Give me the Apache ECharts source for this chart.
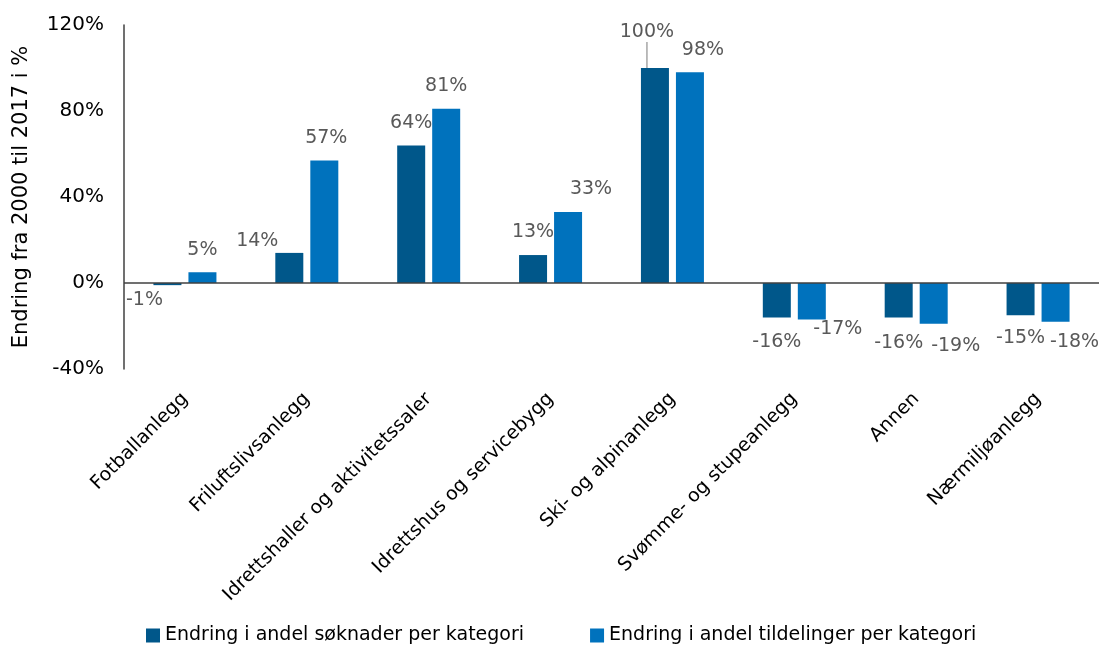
<!DOCTYPE html>
<html><head><meta charset="utf-8">
<script src="https://cdn.jsdelivr.net/npm/echarts@6/dist/echarts.min.js"></script>
<style>html,body{margin:0;padding:0;background:#fff}#c{width:1099px;height:651px}</style>
</head><body><div id="c"></div>
<script>
var categories = ['Fotballanlegg','Friluftslivsanlegg','Idrettshaller og aktivitetssaler','Idrettshus og servicebygg','Ski- og alpinanlegg','Svømme- og stupeanlegg','Annen','Nærmiljøanlegg'];
var seriesNames = ['Endring i andel søknader per kategori','Endring i andel tildelinger per kategori'];
var soknader = [-1, 14, 64, 13, 100, -16, -16, -15];
var tildelinger = [5, 57, 81, 33, 98, -17, -19, -18];
var yTicks = [-40, 0, 40, 80, 120];

var FONT = 'DejaVu Sans';
// label displacement (style only)
var offs = [
  [[-23,-8],[-32,11],[0,0],[0,0],[-8,-13],[0,2],[0,3],[0,0]],
  [[0,0],[2,0],[0,0],[23,0],[13,0],[26,-13],[22,0],[19,-2]]
];

function build(vals, si) {
  return vals.map(function (v, i) {
    var item = { value: v, label: { position: v >= 0 ? 'top' : 'bottom' } };
    if (si === 0 && i === 4) {
      item.labelLine = { show: true, lineStyle: { color: '#a6a6a6', width: 1.5 } };
    }
    return item;
  });
}

var labelStyle = { show: true, formatter: '{c}%', fontSize: 19, color: '#595959', distance: 13, fontFamily: FONT };

var chart = echarts.init(document.getElementById('c'));
chart.setOption({
  animation: false,
  textStyle: { fontFamily: FONT },
  grid: { left: 124, top: 25, width: 980, bottom: 282 },
  legend: {
    bottom: 1, left: 141, itemWidth: 14, itemHeight: 14, itemGap: 66,
    icon: 'rect',
    textStyle: { fontFamily: FONT, fontSize: 19, color: '#000' },
    data: seriesNames
  },
  xAxis: {
    type: 'category', data: categories,
    axisLine: { show: false }, axisTick: { show: false },
    axisLabel: { rotate: 45, interval: 0, fontSize: 19, color: '#000', margin: 27, fontFamily: FONT }
  },
  yAxis: {
    type: 'value', min: -40, max: 120, interval: 40,
    name: 'Endring fra 2000 til 2017 i %', nameLocation: 'middle', nameGap: 92,
    nameTextStyle: { fontSize: 21, color: '#000', fontFamily: FONT },
    axisLine: { show: true, lineStyle: { color: '#404040', width: 1.5 } },
    axisTick: { show: false }, splitLine: { show: false },
    axisLabel: { formatter: '{value}%', fontSize: 20, color: '#000', margin: 20, fontFamily: FONT }
  },
  series: [
    {
      name: seriesNames[0], type: 'bar', barWidth: 28, barGap: '25%',
      itemStyle: { color: '#00578A' },
      label: labelStyle,
      labelLine: { show: false },
      labelLayout: function (p) { var o = offs[0][p.dataIndex]; return { dx: o[0], dy: o[1] }; },
      data: build(soknader, 0),
      markLine: {
        silent: true, symbol: 'none', label: { show: false },
        lineStyle: { color: '#404040', width: 1.5, type: 'solid' },
        data: [{ yAxis: 0 }]
      }
    },
    {
      name: seriesNames[1], type: 'bar', barWidth: 28,
      itemStyle: { color: '#0072BD' },
      label: labelStyle,
      labelLayout: function (p) { var o = offs[1][p.dataIndex]; return { dx: o[0], dy: o[1] }; },
      data: build(tildelinger, 1)
    }
  ]
});
</script></body></html>
